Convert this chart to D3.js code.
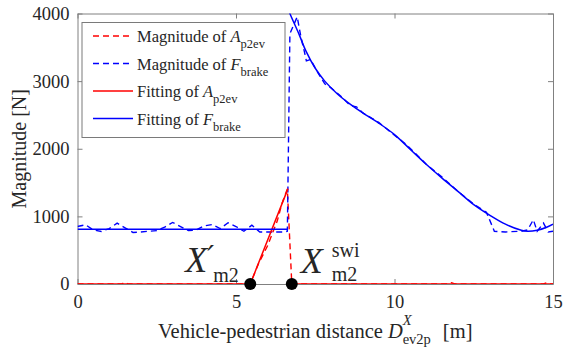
<!DOCTYPE html>
<html>
<head>
<meta charset="utf-8">
<script src="https://cdn.jsdelivr.net/npm/d3@7"></script>
<style>
  body { margin: 0; background: #fff; }
  text { font-family: "Liberation Serif", "Times New Roman", serif; fill: #262626; }
</style>
</head>
<body>
<div id="plot"></div>
<script>
// SVG area
var svgWidth = 563;
var svgHeight = 352;

var margin = {top: 13.5, right: 10, bottom: 68, left: 77.5};
var chartWidth = svgWidth - margin.left - margin.right;
var chartHeight = svgHeight - margin.top - margin.bottom;

// tick values
var xTicks = [0, 5, 10, 15];
var yTicks = [0, 1000, 2000, 3000, 4000];

// measured magnitude of A_p2ev (red dashed)
var accMagX = [0, 1.4, 1.5, 1.6, 5.45, 5.7, 6.0, 6.3, 6.45, 6.55, 6.62, 6.76, 11.7, 11.8, 11.9, 14.7, 14.8, 14.9, 15];
var accMagY = [0, 0, 25, 0, 0, 290, 570, 930, 1190, 1320, 1403, 0, 0, 20, 0, 0, 20, 0, 0];

// measured magnitude of F_brake (blue dashed)
var brakeMagX = [0, 0.25, 0.5, 0.75, 1.0, 1.25, 1.5, 1.75, 2.0, 2.25, 2.5, 2.75, 3.0, 3.25, 3.5, 3.75, 4.0, 4.25, 4.5, 4.75, 5.0, 5.25, 5.5, 5.75, 6.0, 6.25, 6.5, 6.62,
  6.70, 6.93, 7.05, 7.15, 7.22, 7.35, 7.55, 7.8, 8.0, 8.3, 8.6, 8.8, 9.0, 9.5, 10.0, 10.3, 10.6, 11.0, 11.5, 12.0, 12.5, 12.9, 13.15, 13.5, 14.0, 14.2, 14.38, 14.5, 14.7, 14.85, 15];
var brakeMagY = [850, 876, 800, 777, 820, 900, 830, 762, 770, 780, 790, 840, 910, 850, 790, 800, 860, 880, 820, 905, 850, 780, 870, 770, 770, 770, 770, 780,
  3700, 3950, 3650, 3450, 3300, 3320, 3150, 2960, 2900, 2780, 2640, 2620, 2530, 2390, 2200, 2090, 1960, 1770, 1580, 1370, 1180, 1060, 780, 770, 780, 800, 950, 780, 900, 770, 780];

// fitting of A_p2ev (red solid), null = gap
var accFitX = [0, 5.45, 6.64, null, 6.76, 15];
var accFitY = [0, 0, 1410, null, 0, 0];

// fitting of F_brake (blue solid), null = gap
var brakeFitX = [0, 6.62, null, 6.62, 6.70, 7.0, 7.2, 7.5, 7.8, 8.2, 8.6, 9.0, 9.5, 10.0, 10.5, 11.0, 11.5, 12.0, 12.5, 13.0, 13.5, 14.0, 14.2, 14.5, 14.8, 15];
var brakeFitY = [810, 810, null, 4100, 4000, 3680, 3450, 3190, 3000, 2810, 2660, 2530, 2380, 2210, 1990, 1770, 1565, 1370, 1175, 1020, 885, 795, 780, 795, 840, 885];

// switching points X'_m2 and X^swi_m2
var markerX = [5.45, 6.76];
var markerY = [0, 0];

var legendLabels = [
  {text: "Magnitude of ", sym: "A", sub: "p2ev", color: "red", dash: "6,4"},
  {text: "Magnitude of ", sym: "F", sub: "brake", color: "blue", dash: "6,4"},
  {text: "Fitting of ", sym: "A", sub: "p2ev", color: "red", dash: null},
  {text: "Fitting of ", sym: "F", sub: "brake", color: "blue", dash: null}
];

var svg = d3.select("#plot")
  .append("svg")
  .attr("width", svgWidth)
  .attr("height", svgHeight);

var chartGroup = svg.append("g")
  .attr("transform", `translate(${margin.left}, ${margin.top})`);

var xScale = d3.scaleLinear().domain([0, 15]).range([0, chartWidth]);
var yScale = d3.scaleLinear().domain([0, 4000]).range([chartHeight, 0]);

function zip(xs, ys) {
  return xs.map((x, i) => ({x: x, y: ys[i]}));
}

// clip to plot box
svg.append("defs").append("clipPath").attr("id", "clip")
  .append("rect").attr("width", chartWidth).attr("height", chartHeight);

var axisColor = "#808080";

// axes with inward ticks
var bottomAxis = d3.axisBottom(xScale).tickValues(xTicks).tickFormat(d3.format("d")).tickSizeInner(-5).tickSizeOuter(0).tickPadding(11);
var leftAxis = d3.axisLeft(yScale).tickValues(yTicks).tickFormat(d3.format("d")).tickSizeInner(-5).tickSizeOuter(0).tickPadding(8);
var topAxis = d3.axisTop(xScale).tickValues(xTicks).tickSizeInner(-5).tickSizeOuter(0).tickFormat("");
var rightAxis = d3.axisRight(yScale).tickValues(yTicks).tickSizeInner(-5).tickSizeOuter(0).tickFormat("");

function styleAxis(g) {
  g.attr("font-family", null).attr("font-size", null);
  g.selectAll("path").attr("stroke", axisColor);
  g.selectAll("line").attr("stroke", axisColor);
  g.selectAll("text").attr("font-size", 18.5).attr("fill", "#262626");
}

chartGroup.append("g").attr("transform", `translate(0, ${chartHeight})`).call(bottomAxis).call(styleAxis);
chartGroup.append("g").call(leftAxis).call(styleAxis);
chartGroup.append("g").call(topAxis).call(styleAxis);
chartGroup.append("g").attr("transform", `translate(${chartWidth}, 0)`).call(rightAxis).call(styleAxis);

var plotArea = chartGroup.append("g").attr("clip-path", "url(#clip)");

var drawLine = d3.line()
  .defined(d => d.x !== null && d.y !== null)
  .x(d => xScale(d.x))
  .y(d => yScale(d.y));

var drawCurve = d3.line()
  .curve(d3.curveCatmullRom.alpha(0.5))
  .x(d => xScale(d.x))
  .y(d => yScale(d.y));

plotArea.append("path")
  .attr("d", drawLine(zip(accMagX, accMagY)))
  .attr("fill", "none").attr("stroke", "red").attr("stroke-width", 1.4)
  .attr("stroke-dasharray", "6,4");

plotArea.append("path")
  .attr("d", drawLine(zip(brakeMagX, brakeMagY)))
  .attr("fill", "none").attr("stroke", "blue").attr("stroke-width", 1.4)
  .attr("stroke-dasharray", "6,4");

plotArea.append("path")
  .attr("d", drawLine(zip(accFitX, accFitY)))
  .attr("fill", "none").attr("stroke", "red").attr("stroke-width", 1.5);

// the fit is in two pieces; curve only the decaying part
var brakeFit = zip(brakeFitX, brakeFitY);
var gap = brakeFitX.indexOf(null);
plotArea.append("path")
  .attr("d", drawLine(brakeFit.slice(0, gap)))
  .attr("fill", "none").attr("stroke", "blue").attr("stroke-width", 1.5);
plotArea.append("path")
  .attr("d", drawCurve(brakeFit.slice(gap + 1)))
  .attr("fill", "none").attr("stroke", "blue").attr("stroke-width", 1.5);

// markers
chartGroup.selectAll("circle.marker")
  .data(zip(markerX, markerY))
  .enter()
  .append("circle")
  .attr("class", "marker")
  .attr("cx", d => xScale(d.x))
  .attr("cy", d => yScale(d.y))
  .attr("r", 6)
  .attr("fill", "black");

// annotations next to markers
var m1x = xScale(markerX[0]), m2x = xScale(markerX[1]), my = yScale(0);
chartGroup.append("text").attr("x", m1x - 65).attr("y", my - 12)
  .attr("font-size", 36).attr("font-style", "italic").attr("fill", "black").text("X");
chartGroup.append("text").attr("x", m1x - 43).attr("y", my - 17)
  .attr("font-size", 30).attr("fill", "black").style("font-family", '"DejaVu Serif", serif').attr("font-style", "italic").text("′");
chartGroup.append("text").attr("x", m1x - 37).attr("y", my - 2)
  .attr("font-size", 20).attr("fill", "black").text("m2");

chartGroup.append("text").attr("x", m2x + 9).attr("y", my - 11)
  .attr("font-size", 36).attr("font-style", "italic").attr("fill", "black").text("X");
chartGroup.append("text").attr("x", m2x + 40).attr("y", my - 27)
  .attr("font-size", 20).attr("fill", "black").text("swi");
chartGroup.append("text").attr("x", m2x + 40).attr("y", my - 3)
  .attr("font-size", 20).attr("fill", "black").text("m2");

// axis labels
var yLabel = chartGroup.append("text")
  .attr("transform", "rotate(-90)")
  .attr("x", 0 - chartHeight / 2)
  .attr("y", 0 - margin.left + 26)
  .attr("text-anchor", "middle")
  .attr("font-size", 20)
  .text("Magnitude [N]");

var xLabel = chartGroup.append("text")
  .attr("x", chartWidth / 2)
  .attr("y", chartHeight + 54)
  .attr("text-anchor", "middle")
  .attr("font-size", 20.5);
xLabel.append("tspan").text("Vehicle-pedestrian distance ");
xLabel.append("tspan").attr("font-style", "italic").text("D");
xLabel.append("tspan").attr("font-style", "italic").attr("font-size", 14.5).attr("dy", -13).text("X");
xLabel.append("tspan").attr("font-size", 14.5).attr("dx", -9).attr("dy", 19).text("ev2p");
xLabel.append("tspan").attr("dx", 12).attr("dy", -6).text("[m]");

// legend
var legend = chartGroup.append("g").attr("transform", "translate(4.5, 9)");
legend.append("rect")
  .attr("width", 203).attr("height", 115)
  .attr("fill", "white").attr("stroke", "#7a7a7a").attr("stroke-width", 1);

var rows = legend.selectAll("g.row")
  .data(legendLabels)
  .enter()
  .append("g")
  .attr("class", "row")
  .attr("transform", (d, i) => `translate(0, ${13.5 + i * 27.5})`);

rows.append("line")
  .attr("x1", 11).attr("x2", 51)
  .attr("stroke", d => d.color).attr("stroke-width", 1.4)
  .attr("stroke-dasharray", d => d.dash);

var rowText = rows.append("text")
  .attr("x", 55).attr("y", 6)
  .attr("font-size", 16.5);
rowText.append("tspan").text(d => d.text);
rowText.append("tspan").attr("font-style", "italic").text(d => d.sym);
rowText.append("tspan").attr("font-size", 12.5).attr("dy", 6).text(d => d.sub);
</script>
</body>
</html>
